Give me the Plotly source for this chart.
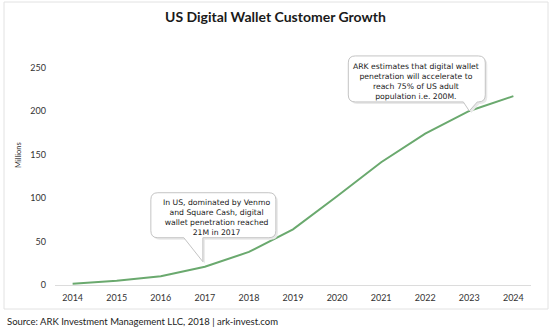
import plotly.graph_objects as go

# ---- data ----
years = [2014, 2015, 2016, 2017, 2018, 2019, 2020, 2021, 2022, 2023, 2024]
customers_m = [1.5, 5, 10, 21, 38, 64, 102, 141, 174, 200, 217]
y_ticks = [0, 50, 100, 150, 200, 250]
title_text = "US Digital Wallet Customer Growth"
y_title = "Millions"
source_text = "Source: ARK Investment Management LLC, 2018 | ark-invest.com"
note_2017 = ["In US, dominated by Venmo", "and Square Cash, digital",
             "wallet penetration reached", "21M in 2017"]
note_2023 = ["ARK estimates that digital wallet", "penetration will accelerate to",
             "reach 75% of US adult", "population i.e. 200M."]

# ---- layout geometry ----
W_FIG, H_FIG = 550, 329
ML, MR, MT, MB = 55, 19, 50, 44
PW, PH = W_FIG - ML - MR, H_FIG - MT - MB
XR = [2013.6, 2024.4]
YR = [0, 270]
FONT = "Lato"
NOTE_FONT = "DejaVu Sans"
LINE_COLOR = "#6aa96e"


def d2px(x, y):
    return (ML + (x - XR[0]) / (XR[1] - XR[0]) * PW,
            MT + PH - (y - YR[0]) / (YR[1] - YR[0]) * PH)


def px2p(px, py):
    return ((px - ML) / PW, (MT + PH - py) / PH)


def path_from_px(cmds):
    out = []
    for c in cmds:
        op = c[0]
        coords = []
        for (px, py) in c[1:]:
            xp, yp = px2p(px, py)
            coords.append(f"{xp:.5f},{yp:.5f}")
        out.append(op + " " + " ".join(coords))
    return " ".join(out) + " Z"


def bubble_cmds(left, top, right, bottom, r, base_l, base_r, tip, dx=0, dy=0):
    L, T, R, B = left + dx, top + dy, right + dx, bottom + dy
    bl, br = base_l + dx, base_r + dx
    tx, ty = tip[0] + dx, tip[1] + dy
    return [
        ("M", (L + r, T)),
        ("L", (R - r, T)),
        ("Q", (R, T), (R, T + r)),
        ("L", (R, B - r)),
        ("Q", (R, B), (R - r, B)),
        ("L", (br, B)),
        ("L", (tx, ty)),
        ("L", (bl, B)),
        ("L", (L + r, B)),
        ("Q", (L, B), (L, B - r)),
        ("L", (L, T + r)),
        ("Q", (L, T), (L + r, T)),
    ]


fig = go.Figure()
fig.add_trace(go.Scatter(x=years, y=customers_m, mode="lines",
                         line=dict(color=LINE_COLOR, width=2),
                         hoverinfo="skip", showlegend=False))

shapes = []
annotations = []

# outer frame
fx0, fy0 = px2p(4, 2)
fx1, fy1 = px2p(548, 309)
shapes.append(dict(type="rect", xref="paper", yref="paper", x0=fx0, y0=fy1, x1=fx1, y1=fy0,
                   line=dict(color="#e2e2e2", width=1), fillcolor="rgba(0,0,0,0)", layer="below"))


def add_bubble(i_anchor, tip_off, box, base, lines, text_c):
    ax, ay = d2px(years[i_anchor], customers_m[i_anchor])
    tip = (ax + tip_off[0], ay + tip_off[1])
    left, top, right, bottom = (tip[0] + box[0], tip[1] + box[1], tip[0] + box[2], tip[1] + box[3])
    bl, br = tip[0] + base[0], tip[0] + base[1]
    shapes.append(dict(type="path", xref="paper", yref="paper",
                       path=path_from_px(bubble_cmds(left, top, right, bottom, 7, bl, br, tip, 2, 2)),
                       fillcolor="#e9e9e9", line=dict(width=0)))
    shapes.append(dict(type="path", xref="paper", yref="paper",
                       path=path_from_px(bubble_cmds(left, top, right, bottom, 7, bl, br, tip)),
                       fillcolor="white", line=dict(color="#c4c4c4", width=1)))
    cx, cy = px2p(tip[0] + text_c[0], tip[1] + text_c[1])
    annotations.append(dict(xref="paper", yref="paper", x=cx, y=cy, text="<br>".join(lines),
                            showarrow=False, xanchor="center", yanchor="middle", align="center",
                            font=dict(family=NOTE_FONT, size=7.7, color="#1a1a1a")))


add_bubble(years.index(2017), (-2, -5), (-52, -69, 73, -24), (-19, 0), note_2017, (14, -44.5))
add_bubble(years.index(2023), (0, 0), (-121, -55, 16, -9), (-6, 8), note_2023, (-53, -29.5))

# title
tx, ty = px2p(275, 17)
annotations.append(dict(xref="paper", yref="paper", x=tx, y=ty, text="<b>" + title_text + "</b>",
                        showarrow=False, xanchor="center", yanchor="middle",
                        font=dict(family=FONT, size=14, color="#1a1a1a")))
# y title
yx, yy = px2p(18, 155)
annotations.append(dict(xref="paper", yref="paper", x=yx, y=yy, text=y_title, textangle=-90,
                        showarrow=False, xanchor="center", yanchor="middle",
                        font=dict(family=FONT, size=7.5, color="#333333")))
# source
sx, sy = px2p(5, 321)
annotations.append(dict(xref="paper", yref="paper", x=sx, y=sy, text=source_text,
                        showarrow=False, xanchor="left", yanchor="middle",
                        font=dict(family=FONT, size=9.5, color="#222222")))

fig.update_layout(
    width=W_FIG, height=H_FIG,
    margin=dict(l=ML, r=MR, t=MT, b=MB),
    paper_bgcolor="white", plot_bgcolor="white",
    shapes=shapes, annotations=annotations,
    xaxis=dict(range=XR, tickvals=years, ticktext=[str(y) for y in years],
               showgrid=False, zeroline=False, showline=True, linecolor="#dcdcdc", linewidth=1,
               ticks="", tickfont=dict(family=FONT, size=9, color="#333333"), ticklabelstandoff=4),
    yaxis=dict(range=YR, tickvals=y_ticks, showgrid=False, zeroline=False, showline=False,
               ticks="", tickfont=dict(family=FONT, size=9, color="#333333"), ticklabelstandoff=8),
)

fig.write_html("out.html")
